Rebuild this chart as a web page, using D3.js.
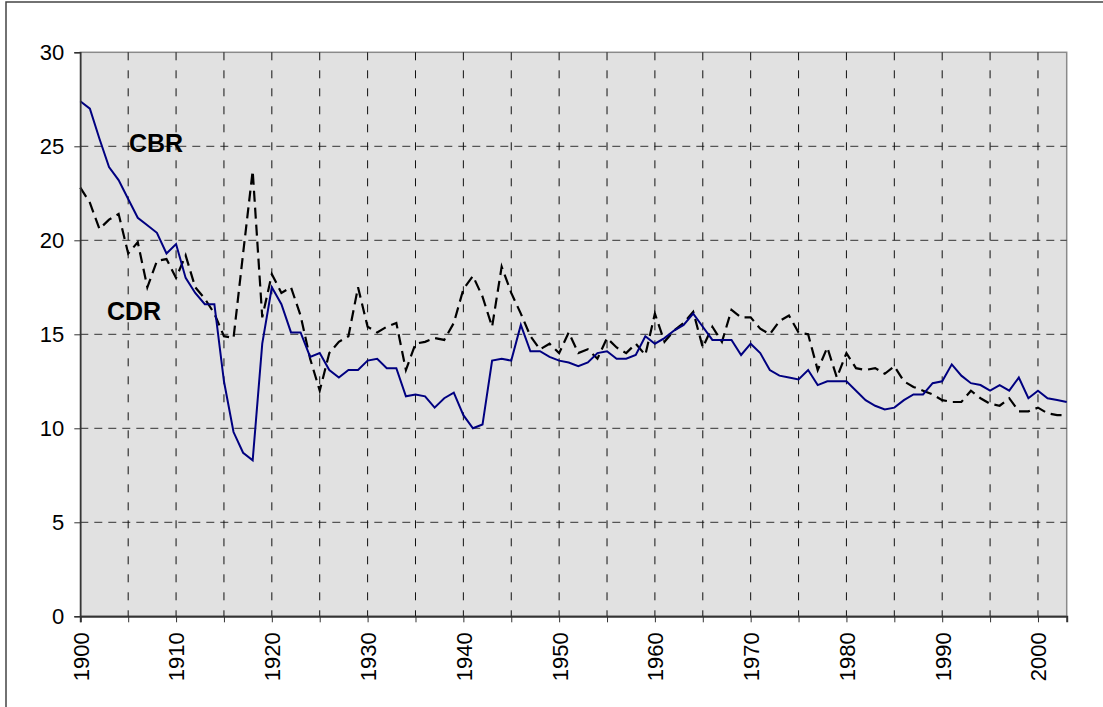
<!DOCTYPE html>
<html>
<head>
<meta charset="utf-8">
<script src="https://cdn.jsdelivr.net/npm/d3@7"></script>
<style>
  body { margin: 0; background: #fff; }
  svg { display: block; font-family: "Liberation Sans", Arial, sans-serif; }
</style>
</head>
<body>
<div id="plot"></div>
<script>
// Years 1900..2003
const years = d3.range(1900, 2004);

// Crude birth rate
const cbr = [
  27.4, 27.0, 25.4, 23.9, 23.2, 22.2, 21.2, 20.8, 20.4, 19.3,
  19.8, 18.0, 17.2, 16.6, 16.6, 12.5, 9.8, 8.7, 8.3, 14.5,
  17.5, 16.6, 15.1, 15.1, 13.8, 14.0, 13.1, 12.7, 13.1, 13.1,
  13.6, 13.7, 13.2, 13.2, 11.7, 11.8, 11.7, 11.1, 11.6, 11.9,
  10.7, 10.0, 10.2, 13.6, 13.7, 13.6, 15.5, 14.1, 14.1, 13.8,
  13.6, 13.5, 13.3, 13.5, 14.0, 14.1, 13.7, 13.7, 13.9, 14.9,
  14.5, 14.8, 15.2, 15.5, 16.1, 15.4, 14.7, 14.7, 14.7, 13.9,
  14.5, 14.0, 13.1, 12.8, 12.7, 12.6, 13.1, 12.3, 12.5, 12.5,
  12.5, 12.0, 11.5, 11.2, 11.0, 11.1, 11.5, 11.8, 11.8, 12.4,
  12.5, 13.4, 12.8, 12.4, 12.3, 12.0, 12.3, 12.0, 12.7, 11.6,
  12.0, 11.6, 11.5, 11.4
];

// Crude death rate
const cdr = [
  22.8, 22.0, 20.6, 21.1, 21.4, 19.3, 19.9, 17.5, 18.9, 19.0,
  18.0, 19.2, 17.5, 16.9, 16.1, 14.9, 14.8, 19.3, 23.7, 15.9,
  18.2, 17.2, 17.5, 16.0, 13.7, 12.0, 14.0, 14.6, 14.9, 17.5,
  15.4, 15.1, 15.4, 15.6, 13.1, 14.5, 14.6, 14.8, 14.7, 15.6,
  17.4, 18.1, 17.0, 15.4, 18.6, 17.2, 16.1, 14.9, 14.2, 14.5,
  14.0, 15.1, 14.0, 14.2, 13.7, 14.8, 14.3, 14.0, 14.5, 13.9,
  16.1, 14.6, 15.2, 15.6, 16.2, 14.3, 15.4, 14.6, 16.3, 15.9,
  15.9, 15.3, 15.0, 15.7, 16.0, 15.1, 15.0, 13.1, 14.3, 12.7,
  14.0, 13.2, 13.1, 13.2, 12.9, 13.3, 12.5, 12.2, 12.0, 11.8,
  11.5, 11.4, 11.4, 12.0, 11.6, 11.3, 11.2, 11.6, 10.9, 10.9,
  11.1, 10.8, 10.7, 10.7
];

const yTicks = [0, 5, 10, 15, 20, 25, 30];
const xGridYears = d3.range(1905, 2003, 5);
const xTickYears = d3.range(1900, 2004, 5);
const xLabelYears = d3.range(1900, 2004, 10);

const W = 1103, H = 707;
const plot = { left: 80.3, right: 1066.7, top: 52.3, bottom: 616.3 };

const svg = d3.select("#plot")
  .append("svg")
  .attr("width", W)
  .attr("height", H);

// outer chart border (only top and left are visible in the frame)
svg.append("rect")
  .attr("x", 6).attr("y", 2)
  .attr("width", 1200).attr("height", 800)
  .attr("fill", "#fff")
  .attr("stroke", "#444")
  .attr("stroke-width", 1.5);

const x = d3.scaleLinear().domain([1900, 2003]).range([plot.left, plot.right]);
const y = d3.scaleLinear().domain([0, 30]).range([plot.bottom, plot.top]);

// plot area
svg.append("rect")
  .attr("x", plot.left).attr("y", plot.top)
  .attr("width", plot.right - plot.left).attr("height", plot.bottom - plot.top)
  .attr("fill", "#e1e1e1")
  .attr("stroke", "#8a8a8a")
  .attr("stroke-width", 1.5);

// gridlines
svg.append("g")
  .selectAll("line")
  .data(yTicks.filter(d => d > 0 && d < 30))
  .join("line")
  .attr("x1", plot.left).attr("x2", plot.right)
  .attr("y1", d => y(d)).attr("y2", d => y(d))
  .attr("stroke", "#333")
  .attr("stroke-width", 1)
  .attr("stroke-dasharray", "8,6");

svg.append("g")
  .selectAll("line")
  .data(xGridYears)
  .join("line")
  .attr("x1", d => x(d)).attr("x2", d => x(d))
  .attr("y1", plot.top).attr("y2", plot.bottom)
  .attr("stroke", "#111")
  .attr("stroke-width", 1)
  .attr("stroke-dasharray", "8,10");

// lines
const line = (vals) => d3.line()
  .x((d, i) => x(years[i]))
  .y(d => y(d))(vals);

svg.append("path")
  .attr("d", line(cdr))
  .attr("fill", "none")
  .attr("stroke", "#000")
  .attr("stroke-width", 2.2)
  .attr("stroke-dasharray", "11,6");

svg.append("path")
  .attr("d", line(cbr))
  .attr("fill", "none")
  .attr("stroke", "#000080")
  .attr("stroke-width", 2);

// y axis
const yAxis = svg.append("g")
  .attr("transform", `translate(${plot.left},0)`)
  .call(d3.axisLeft(y).tickValues(yTicks).tickSize(6).tickPadding(10));
yAxis.select(".domain").attr("stroke", "#333").attr("stroke-width", 1.5);
yAxis.selectAll(".tick line").attr("stroke", "#333");
yAxis.selectAll("text")
  .attr("fill", "#000")
  .style("font-size", "22px")
  .style("font-family", "Liberation Sans, Arial, sans-serif");

// x axis
const xAxis = svg.append("g")
  .attr("transform", `translate(0,${plot.bottom})`)
  .call(d3.axisBottom(x).tickValues(xTickYears).tickSize(6)
    .tickFormat(d => xLabelYears.includes(d) ? d : ""));
xAxis.select(".domain").attr("stroke", "#333").attr("stroke-width", 2);
xAxis.selectAll(".tick line").attr("stroke", "#333");
xAxis.selectAll("text")
  .attr("fill", "#000")
  .attr("transform", "rotate(-90)")
  .attr("x", -16)
  .attr("y", 0)
  .attr("dy", "0.36em")
  .style("text-anchor", "end")
  .style("font-size", "22px")
  .style("font-family", "Liberation Sans, Arial, sans-serif");

// series labels
svg.append("text")
  .attr("x", 129).attr("y", 152)
  .style("font-size", "25px")
  .style("font-weight", "bold")
  .text("CBR");

svg.append("text")
  .attr("x", 107).attr("y", 320)
  .style("font-size", "25px")
  .style("font-weight", "bold")
  .text("CDR");
</script>
</body>
</html>
